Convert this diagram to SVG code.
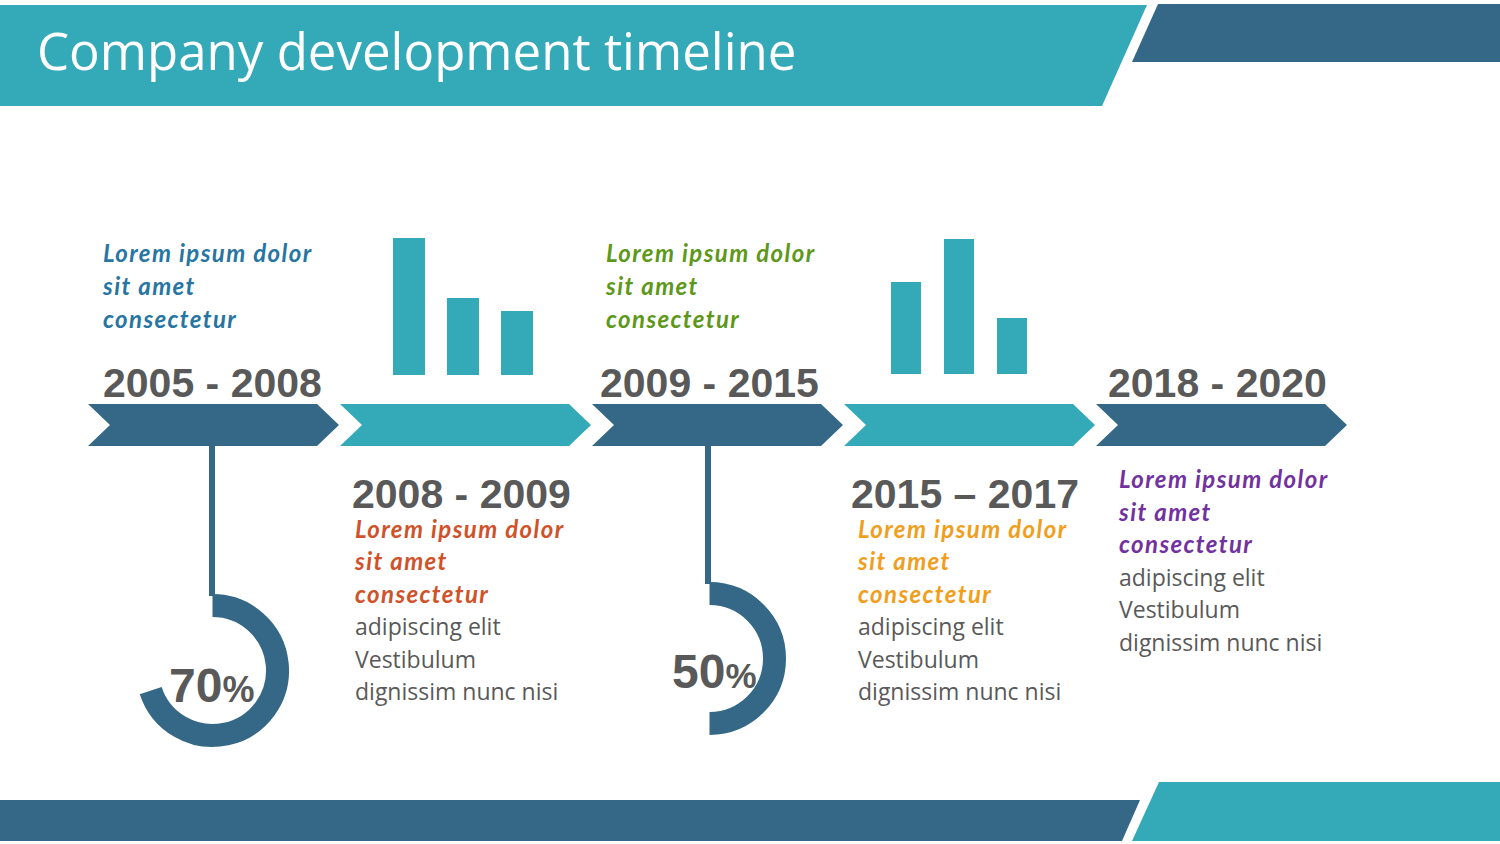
<svg xmlns="http://www.w3.org/2000/svg" width="1500" height="844" viewBox="0 0 1500 844">
<defs>
<style>
.teal{fill:#34A9B8}
.dark{fill:#346886}
.year{font-family:"Liberation Sans",Arial,sans-serif;font-weight:bold;font-size:41px;fill:#595959}
.lead{font-family:Lato,"Open Sans",sans-serif;font-weight:bold;font-style:italic;font-size:24px;letter-spacing:1.4px}
.body{font-family:"Open Sans","Noto Sans",sans-serif;font-size:23px;fill:#595959}
.pct{font-family:"Liberation Sans",Arial,sans-serif;font-weight:bold;fill:#595959}
.ring{fill:none;stroke:#346886;stroke-width:23}
.stem{stroke:#346886;stroke-width:6}
</style>
</defs>
<rect width="1500" height="844" fill="#FFFFFF"/>
<g id="header">
<polygon class="teal" points="0,5 1147,5 1102,106 0,106"/>
<polygon class="dark" points="1158,4 1500,4 1500,62 1132,62"/>
<text x="37" y="70" font-family="Open Sans, sans-serif" font-size="51" fill="#FFFFFF">Company development timeline</text>
</g>
<g id="footer">
<polygon class="dark" points="0,800 1140,800 1122,841 0,841"/>
<polygon class="teal" points="1159,782 1500,782 1500,841 1132,841"/>
</g>
<g id="chevrons">
<polygon id="chev1" class="dark" points="88,404 317,404 339,425 317,446 88,446 110,425"/>
<polygon id="chev2" class="teal" points="340,404 569,404 591,425 569,446 340,446 362,425"/>
<polygon id="chev3" class="dark" points="592,404 821,404 843,425 821,446 592,446 614,425"/>
<polygon id="chev4" class="teal" points="844,404 1073,404 1095,425 1073,446 844,446 866,425"/>
<polygon id="chev5" class="dark" points="1096,404 1325,404 1347,425 1325,446 1096,446 1118,425"/>
</g>
<g id="bars1">
<rect class="teal" x="393" y="238" width="32" height="137"/>
<rect class="teal" x="447" y="298" width="32" height="77"/>
<rect class="teal" x="501" y="311" width="32" height="64"/>
</g>
<g id="bars2">
<rect class="teal" x="891" y="282" width="30" height="92"/>
<rect class="teal" x="944" y="239" width="30" height="135"/>
<rect class="teal" x="997" y="318" width="30" height="56"/>
</g>
<g id="connectors">
<line class="stem" x1="212" y1="446" x2="212" y2="596"/>
<line class="stem" x1="708" y1="446" x2="708" y2="584"/>
</g>
<g id="gauge70">
<path class="ring" d="M212.5,605.5 A65,65 0 1 1 150.7,690.6"/>
<text class="pct" x="169" y="702"><tspan font-size="48">70</tspan><tspan font-size="36">%</tspan></text>
</g>
<g id="gauge50">
<path class="ring" d="M709.5,593.5 A65,65 0 0 1 709.5,723.5"/>
<text class="pct" x="672" y="688"><tspan font-size="48">50</tspan><tspan font-size="35">%</tspan></text>
</g>
<g id="stage1">
<text class="lead" fill="#2775A2"><tspan x="103" y="262">Lorem ipsum dolor</tspan><tspan x="103" y="295">sit amet</tspan><tspan x="103" y="328">consectetur</tspan></text>
<text class="year" x="103" y="397">2005 - 2008</text>
</g>
<g id="stage2">
<text class="year" x="352" y="508">2008 - 2009</text>
<text class="lead" fill="#CF522A"><tspan x="355" y="538">Lorem ipsum dolor</tspan><tspan x="355" y="570">sit amet</tspan><tspan x="355" y="603">consectetur</tspan></text>
<text class="body"><tspan x="355" y="635">adipiscing elit</tspan><tspan x="355" y="668">Vestibulum</tspan><tspan x="355" y="700">dignissim nunc nisi</tspan></text>
</g>
<g id="stage3">
<text class="lead" fill="#5E981B"><tspan x="606" y="262">Lorem ipsum dolor</tspan><tspan x="606" y="295">sit amet</tspan><tspan x="606" y="328">consectetur</tspan></text>
<text class="year" x="600" y="397">2009 - 2015</text>
</g>
<g id="stage4">
<text class="year" x="851" y="508">2015 – 2017</text>
<text class="lead" fill="#F09E1C"><tspan x="858" y="538">Lorem ipsum dolor</tspan><tspan x="858" y="570">sit amet</tspan><tspan x="858" y="603">consectetur</tspan></text>
<text class="body"><tspan x="858" y="635">adipiscing elit</tspan><tspan x="858" y="668">Vestibulum</tspan><tspan x="858" y="700">dignissim nunc nisi</tspan></text>
</g>
<g id="stage5">
<text class="year" x="1108" y="397">2018 - 2020</text>
<text class="lead" fill="#7132A0"><tspan x="1119" y="488">Lorem ipsum dolor</tspan><tspan x="1119" y="521">sit amet</tspan><tspan x="1119" y="553">consectetur</tspan></text>
<text class="body"><tspan x="1119" y="586">adipiscing elit</tspan><tspan x="1119" y="618">Vestibulum</tspan><tspan x="1119" y="651">dignissim nunc nisi</tspan></text>
</g>
</svg>
